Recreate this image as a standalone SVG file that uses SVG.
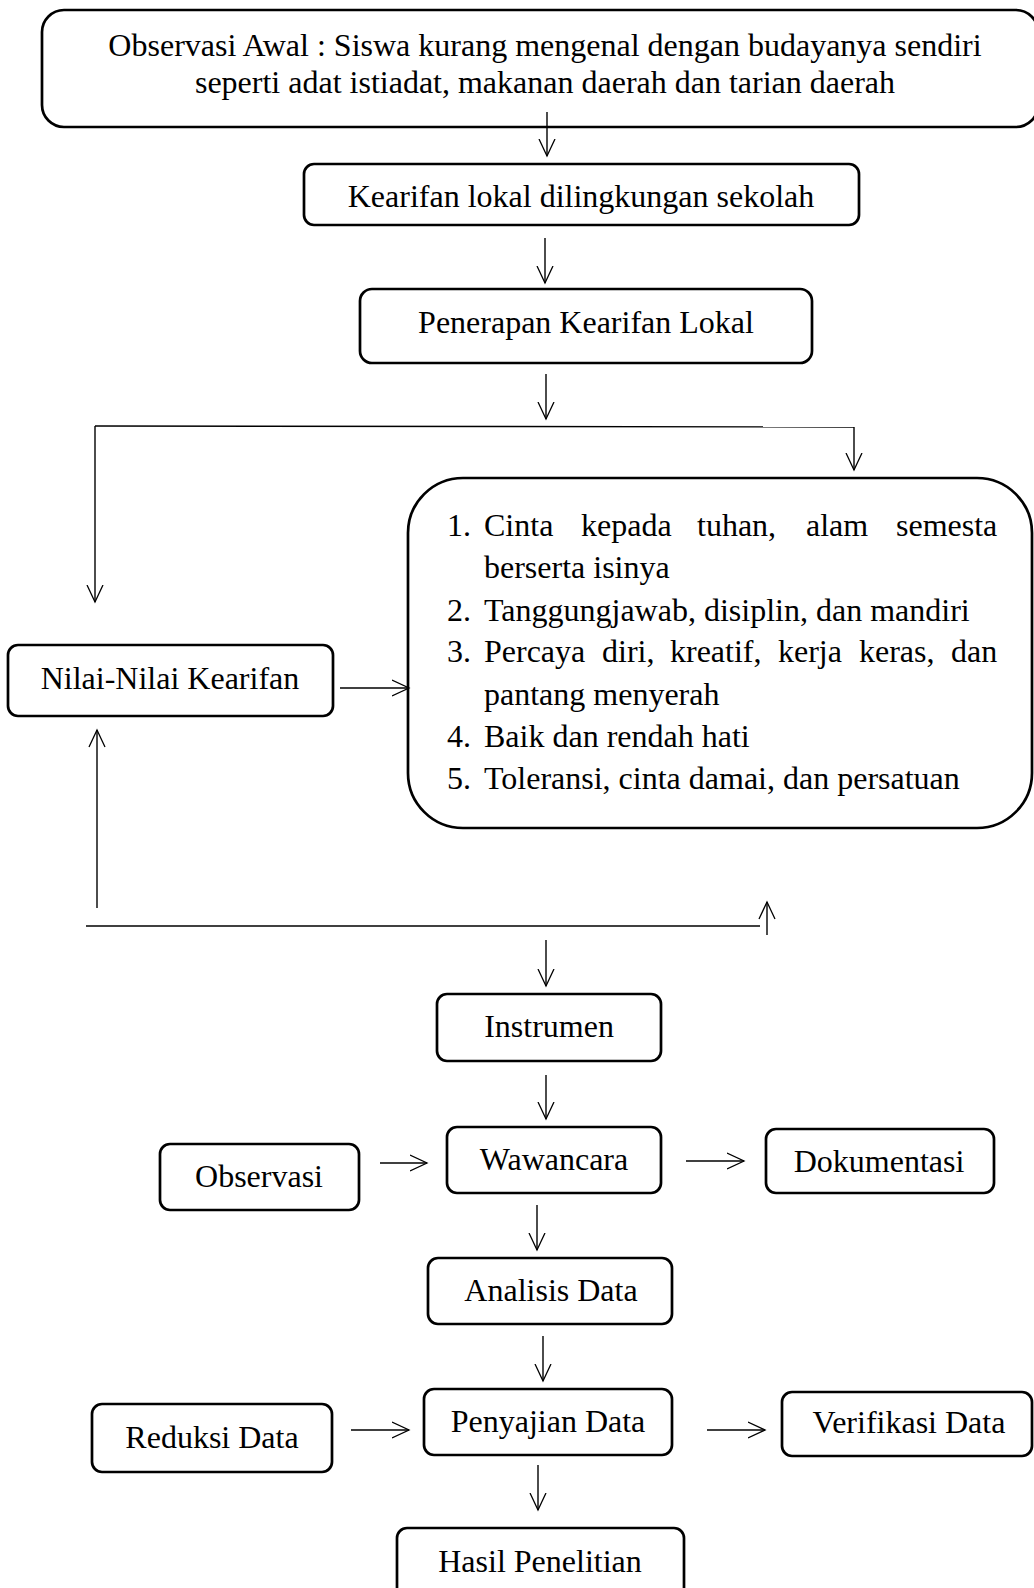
<svg xmlns="http://www.w3.org/2000/svg" width="1034" height="1588" viewBox="0 0 1034 1588">
<defs>
<marker id="ah" markerUnits="userSpaceOnUse" markerWidth="20" markerHeight="20" refX="17.5" refY="9" orient="auto">
<path d="M0.5,1 L17.5,9 L0.5,17" fill="none" stroke="#000" stroke-width="1.3"/>
</marker>
<style>
.box{fill:#fff;stroke:#000;stroke-width:2.7}
.t{font-family:"Liberation Serif","Times New Roman",serif;font-size:32px;fill:#000}
.c{text-anchor:middle}
.ln{fill:none;stroke:#000;stroke-width:1.4}
.ar{fill:none;stroke:#000;stroke-width:1.4;marker-end:url(#ah)}
</style>
</defs>
<rect width="1034" height="1588" fill="#fff"/>

<g id="observasi-awal">
<rect class="box" x="42" y="10" width="996" height="117" rx="22"/>
<text class="t c" x="545" y="56">Observasi Awal : Siswa kurang mengenal dengan budayanya sendiri</text>
<text class="t c" x="545" y="93">seperti adat istiadat, makanan daerah dan tarian daerah</text>
</g>

<g id="kearifan-lokal">
<rect class="box" x="304" y="164" width="555" height="61" rx="10"/>
<text class="t c" x="581" y="207">Kearifan lokal dilingkungan sekolah</text>
</g>

<g id="penerapan">
<rect class="box" x="360" y="289" width="452" height="74" rx="12"/>
<text class="t c" x="586" y="333">Penerapan Kearifan Lokal</text>
</g>

<g id="nilai-list">
<rect class="box" x="408" y="478" width="624" height="350" rx="55"/>
<text class="t"><tspan x="447" y="536">1.</tspan><tspan x="484" y="536">Cinta</tspan><tspan x="581" y="536">kepada</tspan><tspan x="697" y="536">tuhan,</tspan><tspan x="806" y="536">alam</tspan><tspan x="896" y="536">semesta</tspan></text>
<text class="t" x="484" y="578">berserta isinya</text>
<text class="t"><tspan x="447" y="621">2.</tspan><tspan x="484" y="621">Tanggungjawab, disiplin, dan mandiri</tspan></text>
<text class="t"><tspan x="447" y="662">3.</tspan><tspan x="484" y="662">Percaya</tspan><tspan x="602" y="662">diri,</tspan><tspan x="670" y="662">kreatif,</tspan><tspan x="778" y="662">kerja</tspan><tspan x="859" y="662">keras,</tspan><tspan x="951" y="662">dan</tspan></text>
<text class="t" x="484" y="705">pantang menyerah</text>
<text class="t"><tspan x="447" y="747">4.</tspan><tspan x="484" y="747">Baik dan rendah hati</tspan></text>
<text class="t"><tspan x="447" y="789">5.</tspan><tspan x="484" y="789">Toleransi, cinta damai, dan persatuan</tspan></text>
</g>

<g id="nilai-kearifan">
<rect class="box" x="8" y="645" width="325" height="71" rx="10"/>
<text class="t c" x="170" y="689">Nilai-Nilai Kearifan</text>
</g>

<g id="instrumen">
<rect class="box" x="437" y="994" width="224" height="67" rx="10"/>
<text class="t c" x="549" y="1037">Instrumen</text>
</g>

<g id="observasi">
<rect class="box" x="160" y="1144" width="199" height="66" rx="10"/>
<text class="t c" x="259" y="1187">Observasi</text>
</g>

<g id="wawancara">
<rect class="box" x="447" y="1127" width="214" height="66" rx="10"/>
<text class="t c" x="554" y="1170">Wawancara</text>
</g>

<g id="dokumentasi">
<rect class="box" x="766" y="1129" width="228" height="64" rx="10"/>
<text class="t c" x="879" y="1172">Dokumentasi</text>
</g>

<g id="analisis-data">
<rect class="box" x="428" y="1258" width="244" height="66" rx="10"/>
<text class="t c" x="551" y="1301">Analisis Data</text>
</g>

<g id="reduksi-data">
<rect class="box" x="92" y="1404" width="240" height="68" rx="10"/>
<text class="t c" x="212" y="1448">Reduksi Data</text>
</g>

<g id="penyajian-data">
<rect class="box" x="424" y="1389" width="248" height="66" rx="10"/>
<text class="t c" x="548" y="1432">Penyajian Data</text>
</g>

<g id="verifikasi-data">
<rect class="box" x="782" y="1392" width="250" height="64" rx="10"/>
<text class="t c" x="909" y="1433">Verifikasi Data</text>
</g>

<g id="hasil-penelitian">
<rect class="box" x="397" y="1528" width="287" height="80" rx="10"/>
<text class="t c" x="540" y="1572">Hasil Penelitian</text>
</g>

<g id="connectors">
<line class="ar" x1="547" y1="112" x2="547" y2="156"/>
<line class="ar" x1="545" y1="238" x2="545" y2="283"/>
<line class="ar" x1="546" y1="374" x2="546" y2="419"/>
<line class="ln" x1="95" y1="426" x2="854" y2="427"/>
<line class="ar" x1="95" y1="426" x2="95" y2="602"/>
<line class="ar" x1="854" y1="427" x2="854" y2="470"/>
<line class="ar" x1="340" y1="688" x2="409" y2="688"/>
<line class="ar" x1="97" y1="908" x2="97" y2="730"/>
<line class="ln" x1="86" y1="926" x2="760" y2="926"/>
<line class="ar" x1="767" y1="935" x2="767" y2="902"/>
<line class="ar" x1="546" y1="940" x2="546" y2="986"/>
<line class="ar" x1="546" y1="1075" x2="546" y2="1119"/>
<line class="ar" x1="380" y1="1163" x2="427" y2="1163"/>
<line class="ar" x1="686" y1="1161" x2="744" y2="1161"/>
<line class="ar" x1="537" y1="1205" x2="537" y2="1250"/>
<line class="ar" x1="543" y1="1336" x2="543" y2="1381"/>
<line class="ar" x1="351" y1="1430" x2="409" y2="1430"/>
<line class="ar" x1="707" y1="1430" x2="765" y2="1430"/>
<line class="ar" x1="538" y1="1465" x2="538" y2="1510"/>
</g>
</svg>
